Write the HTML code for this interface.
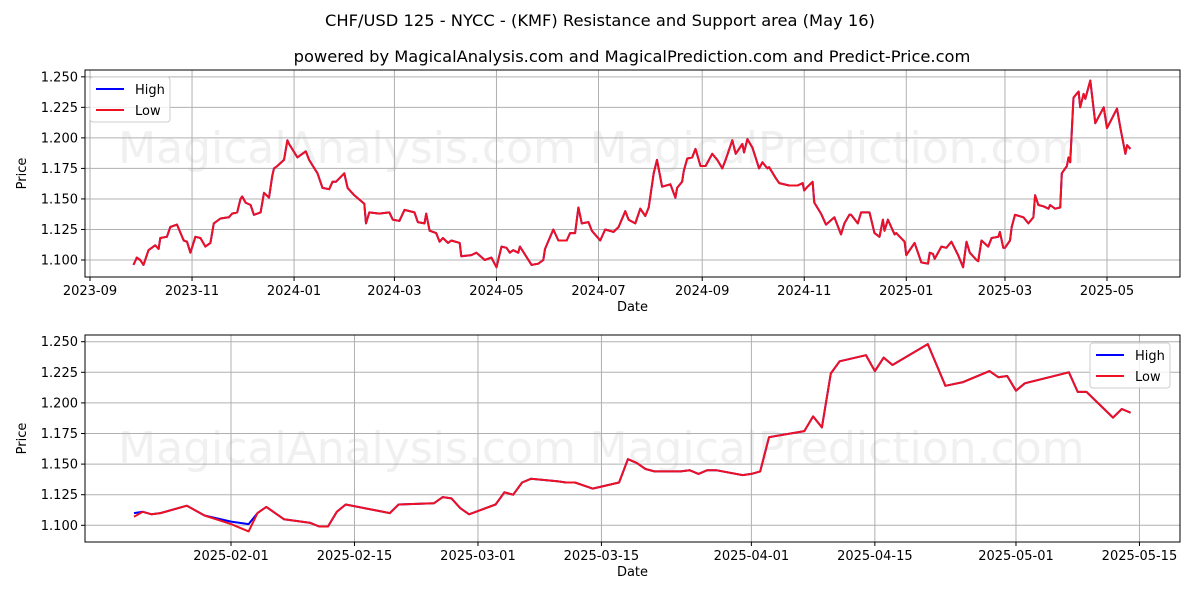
<!DOCTYPE html>
<html><head><meta charset="utf-8">
<style>
html,body{margin:0;padding:0;background:#fff;}
svg{display:block;font-family:"DejaVu Sans","Liberation Sans",sans-serif;}
</style></head>
<body>
<svg id="chart" width="1200" height="600" viewBox="0 0 1200 600" xmlns="http://www.w3.org/2000/svg">
<rect width="1200" height="600" fill="#fff"/>
<text x="600" y="26" text-anchor="middle" font-size="16.3" fill="#000">CHF/USD 125 - NYCC -  (KMF) Resistance and Support area (May 16)</text>
<text x="632" y="62" text-anchor="middle" font-size="16.3" fill="#000">powered by MagicalAnalysis.com and MagicalPrediction.com and Predict-Price.com</text>
<g id="top"></g>
<g id="bot"></g>
</svg>
<script>
// Top chart data: days since 2023-09-01, price
const topDays = [26,28,30,32,35,39,41,42,46,48,52,56,58,60,63,66,69,72,74,78,83,85,88,90,91,93,96,98,102,104,107,109,110,112,116,118,119,124,129,131,136,139,143,145,147,152,154,158,164,165,167,173,179,181,185,188,194,196,200,201,203,207,209,211,214,216,221,222,228,231,236,240,243,246,249,251,253,256,257,264,268,271,272,277,280,285,287,290,292,294,298,300,305,308,313,316,320,322,326,329,332,334,337,339,342,347,350,351,354,355,357,360,362,365,368,372,375,378,380,384,386,390,391,393,396,400,402,405,406,410,412,418,423,426,427,429,432,433,437,440,445,449,451,454,455,459,461,466,469,472,474,475,477,481,482,487,488,493,497,501,502,504,505,509,512,515,519,522,524,526,530,531,533,537,539,543,544,546,547,550,551,553,558,561,564,565,567,570,573,574,577,580,581,584,585,586,588,591,592,594,595,598,601,606,608,614,616,619,620,622];
const topLow = [1.096,1.102,1.100,1.096,1.108,1.112,1.109,1.118,1.119,1.127,1.129,1.116,1.115,1.106,1.119,1.118,1.111,1.114,1.130,1.134,1.135,1.138,1.139,1.150,1.152,1.147,1.145,1.137,1.139,1.155,1.151,1.169,1.175,1.177,1.182,1.198,1.195,1.184,1.189,1.182,1.171,1.159,1.158,1.164,1.164,1.171,1.159,1.153,1.146,1.130,1.139,1.138,1.139,1.133,1.132,1.141,1.139,1.131,1.130,1.138,1.124,1.122,1.115,1.118,1.114,1.116,1.114,1.103,1.104,1.106,1.100,1.102,1.094,1.111,1.110,1.106,1.108,1.106,1.111,1.096,1.097,1.100,1.109,1.125,1.116,1.116,1.122,1.122,1.143,1.130,1.131,1.124,1.116,1.125,1.123,1.127,1.140,1.133,1.130,1.142,1.136,1.143,1.171,1.182,1.160,1.162,1.151,1.159,1.164,1.173,1.183,1.184,1.191,1.177,1.177,1.187,1.182,1.175,1.182,1.198,1.187,1.195,1.188,1.199,1.192,1.175,1.180,1.175,1.176,1.167,1.163,1.161,1.161,1.163,1.157,1.160,1.164,1.147,1.138,1.129,1.135,1.121,1.130,1.137,1.137,1.130,1.139,1.139,1.122,1.119,1.133,1.124,1.133,1.121,1.122,1.115,1.104,1.114,1.098,1.097,1.106,1.105,1.101,1.111,1.110,1.115,1.104,1.094,1.115,1.106,1.100,1.099,1.116,1.111,1.118,1.119,1.123,1.110,1.110,1.116,1.127,1.137,1.135,1.130,1.135,1.153,1.145,1.144,1.142,1.145,1.142,1.143,1.171,1.177,1.184,1.180,1.233,1.238,1.225,1.236,1.232,1.247,1.212,1.225,1.208,1.224,1.208,1.187,1.194,1.191];
const topHigh = topLow.slice();
const topTickDays = [0,61,122,182,243,304,366,427,488,547,608];
const topTickLabels = ["2023-09","2023-11","2024-01","2024-03","2024-05","2024-07","2024-09","2024-11","2025-01","2025-03","2025-05"];
// Bottom chart data: days since 2025-02-01
const botDays = [-11,-10,-9,-8,-5,-3,0,2,3,4,6,9,10,11,12,13,18,19,23,24,25,26,27,30,31,32,33,34,37,38,39,41,44,45,46,47,48,51,52,53,54,55,58,59,60,61,65,66,67,68,69,72,73,74,75,79,81,83,86,87,88,89,90,95,96,97,100,101,102];
const botLow = [1.107,1.111,1.109,1.110,1.116,1.108,1.101,1.095,1.110,1.115,1.105,1.102,1.099,1.099,1.111,1.117,1.110,1.117,1.118,1.123,1.122,1.114,1.109,1.117,1.127,1.125,1.135,1.138,1.136,1.135,1.135,1.130,1.135,1.154,1.151,1.146,1.144,1.144,1.145,1.142,1.145,1.145,1.141,1.142,1.144,1.172,1.177,1.189,1.180,1.224,1.234,1.239,1.226,1.237,1.231,1.248,1.214,1.217,1.226,1.221,1.222,1.210,1.216,1.225,1.209,1.209,1.188,1.195,1.192];
const botHigh = [1.110,1.111,1.109,1.110,1.116,1.108,1.103,1.101,1.110,1.115,1.105,1.102,1.099,1.099,1.111,1.117,1.110,1.117,1.118,1.123,1.122,1.114,1.109,1.117,1.127,1.125,1.135,1.138,1.136,1.135,1.135,1.130,1.135,1.154,1.151,1.146,1.144,1.144,1.145,1.142,1.145,1.145,1.141,1.142,1.144,1.172,1.177,1.189,1.180,1.224,1.234,1.239,1.226,1.237,1.231,1.248,1.214,1.217,1.226,1.221,1.222,1.210,1.216,1.225,1.209,1.209,1.188,1.195,1.192];
const botTickDays = [0,14,28,42,59,73,89,103];
const botTickLabels = ["2025-02-01","2025-02-15","2025-03-01","2025-03-15","2025-04-01","2025-04-15","2025-05-01","2025-05-15"];
const yTicks = [1.100,1.125,1.150,1.175,1.200,1.225,1.250];

const NS = "http://www.w3.org/2000/svg";
function mk(parent, tag, attrs, text){
  const e = document.createElementNS(NS, tag);
  for (const k in attrs) e.setAttribute(k, attrs[k]);
  if (text !== undefined) e.textContent = text;
  parent.appendChild(e);
  return e;
}

function panel(g, cfg){
  const {L,R,T,B,x0,xPerDay,y0,yPerUnit,days,high,low,tickDays,tickLabels,legendX,legendY,wmY} = cfg;
  const xs = d => x0 + d*xPerDay;
  const ys = v => y0 - (v-1.100)*yPerUnit;
  const w1 = mk(g,'text',{x:347,y:wmY,'text-anchor':'middle','font-size':44,fill:'#e6e6e6','fill-opacity':0.6},'MagicalAnalysis.com');
  
  
  const w2 = mk(g,'text',{x:837,y:wmY,'text-anchor':'middle','font-size':44,fill:'#e6e6e6','fill-opacity':0.6},'MagicalPrediction.com');
  
  
  yTicks.forEach(v=>{
    const y = ys(v);
    const gl = mk(g,'line',{x1:L,x2:R,y1:y,y2:y,stroke:'#b0b0b0','stroke-width':1});
    
    
    mk(g,'line',{x1:L-4,x2:L,y1:y,y2:y,stroke:'#000','stroke-width':1});
    const t = mk(g,'text',{x:L-7,y:y+4.5,'text-anchor':'end','font-size':13,fill:'#000'},v.toFixed(3));
    
    
  });
  tickDays.forEach((d,i)=>{
    const x = xs(d);
    const gl = mk(g,'line',{x1:x,x2:x,y1:T,y2:B,stroke:'#b0b0b0','stroke-width':1});
    
    
    mk(g,'line',{x1:x,x2:x,y1:B,y2:B+4,stroke:'#000','stroke-width':1});
    const t = mk(g,'text',{x:x,y:B+18,'text-anchor':'middle','font-size':13,fill:'#000'},tickLabels[i]);
    
    
  });
  const ptsH = days.map((d,i)=>xs(d).toFixed(1)+','+ys(high[i]).toFixed(1)).join(' ');
  const ptsL = days.map((d,i)=>xs(d).toFixed(1)+','+ys(low[i]).toFixed(1)).join(' ');
  const lh = mk(g,'polyline',{points:ptsH,fill:'none',stroke:'#0000ff','stroke-width':2,'stroke-linejoin':'round'});
  
  
  const ll = mk(g,'polyline',{points:ptsL,fill:'none',stroke:'#ee1122','stroke-width':2,'stroke-linejoin':'round'});
  
  
  const fr = mk(g,'rect',{x:L,y:T,width:R-L,height:B-T,fill:'none',stroke:'#000','stroke-width':1});
  
  
  const xt = mk(g,'text',{x:(L+R)/2,y:B+34,'text-anchor':'middle','font-size':13,fill:'#000'},'Date');
  
  
  const cy=(T+B)/2;
  const yt = mk(g,'text',{x:26,y:cy,'text-anchor':'middle','font-size':13,fill:'#000',transform:'rotate(-90 26 '+cy+')'},'Price');
  
  
  const lg = mk(g,'g',{});
  
  
  mk(lg,'rect',{x:legendX,y:legendY,width:80,height:45,rx:3,fill:'#fff','fill-opacity':0.8,stroke:'#cccccc','stroke-width':1});
  const e1 = mk(lg,'g',{});
  
  
  mk(e1,'line',{x1:legendX+6,x2:legendX+34,y1:legendY+12,y2:legendY+12,stroke:'#0000ff','stroke-width':2});
  mk(e1,'text',{x:legendX+45,y:legendY+17,'font-size':13,fill:'#000'},'High');
  const e2 = mk(lg,'g',{});
  
  
  mk(e2,'line',{x1:legendX+6,x2:legendX+34,y1:legendY+33,y2:legendY+33,stroke:'#ee1122','stroke-width':2});
  mk(e2,'text',{x:legendX+45,y:legendY+38,'font-size':13,fill:'#000'},'Low');
}

panel(document.getElementById('top'),{L:85,R:1180,T:70,B:277,x0:90,xPerDay:1.6727,y0:260,yPerUnit:30.53/0.025,
  days:topDays,high:topHigh,low:topLow,tickDays:topTickDays,tickLabels:topTickLabels,legendX:90,legendY:77,wmY:163});
panel(document.getElementById('bot'),{L:85,R:1180,T:335,B:542,x0:231,xPerDay:8.82,y0:525.3,yPerUnit:30.6/0.025,
  days:botDays,high:botHigh,low:botLow,tickDays:botTickDays,tickLabels:botTickLabels,legendX:1090,legendY:343,wmY:463});
</script>
</body></html>
